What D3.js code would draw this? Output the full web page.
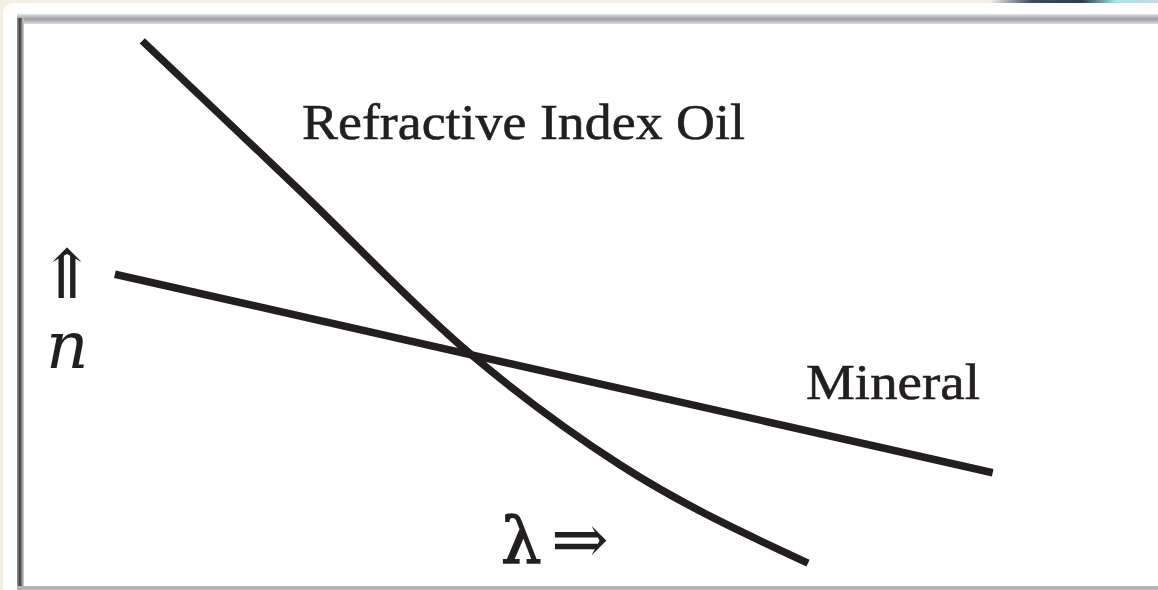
<!DOCTYPE html>
<html>
<head>
<meta charset="utf-8">
<script src="https://cdn.jsdelivr.net/npm/d3@7"></script>
<style>
  html, body { margin: 0; padding: 0; background: #f3efe5; }
  svg { display: block; }
</style>
</head>
<body>
<div id="chart"></div>
<script>
// Data: wavelength (0-100, left to right) vs refractive index (0-100, bottom to top)
const oilLambda = [10.9, 24.7, 39.6, 52.8, 69.3]
const oilN = [96.0, 69.9, 41.4, 21.9, 4.7]
const mineralLambda = [8.5, 85.5]
const mineralN = [55.2, 20.5]
const labels = ['Refractive Index Oil', 'Mineral']

const width = 1158
const height = 590

const svg = d3.select('#chart')
  .append('svg')
  .attr('width', width)
  .attr('height', height)

const defs = svg.append('defs')
const gTop = defs.append('linearGradient').attr('id', 'topEdge')
  .attr('x1', 0).attr('y1', 0).attr('x2', 0).attr('y2', 1)
gTop.append('stop').attr('offset', '0%').attr('stop-color', '#e4e4e6')
gTop.append('stop').attr('offset', '50%').attr('stop-color', '#9d9ea3')
gTop.append('stop').attr('offset', '100%').attr('stop-color', '#dcdcdf')
const gLeft = defs.append('linearGradient').attr('id', 'leftEdge')
  .attr('x1', 0).attr('y1', 0).attr('x2', 1).attr('y2', 0)
gLeft.append('stop').attr('offset', '0%').attr('stop-color', '#9a9a9a')
gLeft.append('stop').attr('offset', '40%').attr('stop-color', '#3a3a3a')
gLeft.append('stop').attr('offset', '100%').attr('stop-color', '#d8d8d8')
const gStrip = defs.append('linearGradient').attr('id', 'strip')
gStrip.append('stop').attr('offset', '0%').attr('stop-color', '#f3efe5')
gStrip.append('stop').attr('offset', '25%').attr('stop-color', '#3c4a5c')
gStrip.append('stop').attr('offset', '55%').attr('stop-color', '#2f3d52')
gStrip.append('stop').attr('offset', '75%').attr('stop-color', '#a8e4ee')
gStrip.append('stop').attr('offset', '100%').attr('stop-color', '#c8d8e0')

// page panel and frame
svg.append('rect').attr('x', 990).attr('y', 0).attr('width', 168).attr('height', 3)
  .attr('fill', 'url(#strip)')
svg.append('rect').attr('x', 3).attr('y', 3).attr('width', 1170).attr('height', 600)
  .attr('rx', 10).attr('fill', '#ffffff')
svg.append('rect').attr('x', 17).attr('y', 14).attr('width', 1150).attr('height', 10)
  .attr('fill', 'url(#topEdge)')
svg.append('rect').attr('x', 17).attr('y', 18).attr('width', 7).attr('height', 580)
  .attr('fill', 'url(#leftEdge)')
svg.append('rect').attr('x', 17).attr('y', 586).attr('width', 1150).attr('height', 4)
  .attr('fill', '#b4b4b6')

const x = d3.scaleLinear().domain([0, 100]).range([18, 1158])
const y = d3.scaleLinear().domain([0, 100]).range([590, 18])

const ink = '#231f20'

const oil = oilLambda.map((l, i) => ({ l, n: oilN[i] }))
const mineral = mineralLambda.map((l, i) => ({ l, n: mineralN[i] }))

svg.append('path')
  .datum(oil)
  .attr('d', d3.line().x(d => x(d.l)).y(d => y(d.n)).curve(d3.curveMonotoneX))
  .attr('fill', 'none')
  .attr('stroke', ink)
  .attr('stroke-width', 7.5)

svg.append('path')
  .datum(mineral)
  .attr('d', d3.line().x(d => x(d.l)).y(d => y(d.n)))
  .attr('fill', 'none')
  .attr('stroke', ink)
  .attr('stroke-width', 7.5)

const serif = "'Liberation Serif', 'DejaVu Serif', serif"

svg.append('text')
  .attr('x', 302).attr('y', 139)
  .attr('font-family', serif).attr('font-size', 51)
  .attr('textLength', 443).attr('lengthAdjust', 'spacingAndGlyphs')
  .attr('fill', ink).attr('stroke', ink).attr('stroke-width', 0.6)
  .text(labels[0])

svg.append('text')
  .attr('x', 806).attr('y', 399)
  .attr('font-family', serif).attr('font-size', 51)
  .attr('textLength', 174).attr('lengthAdjust', 'spacingAndGlyphs')
  .attr('fill', ink).attr('stroke', ink).attr('stroke-width', 0.6)
  .text(labels[1])

// axis labels
svg.append('text')
  .attr('x', 67).attr('y', 298)
  .attr('text-anchor', 'middle')
  .attr('font-family', "'DejaVu Serif', serif").attr('font-size', 68)
  .attr('fill', ink)
  .text('⇑')

svg.append('text')
  .attr('x', 46).attr('y', 368)
  .attr('font-family', "'DejaVu Serif', serif").attr('font-style', 'italic').attr('font-size', 66)
  .attr('fill', ink)
  .text('n')

svg.append('text')
  .attr('x', 501).attr('y', 562)
  .attr('font-family', "'DejaVu Serif', serif").attr('font-size', 64)
  .attr('fill', ink).attr('stroke', ink).attr('stroke-width', 1.5)
  .text('λ')

svg.append('text')
  .attr('x', 551).attr('y', 563)
  .attr('font-family', "'DejaVu Serif', serif").attr('font-size', 69)
  .attr('fill', ink)
  .text('⇒')
</script>
</body>
</html>
